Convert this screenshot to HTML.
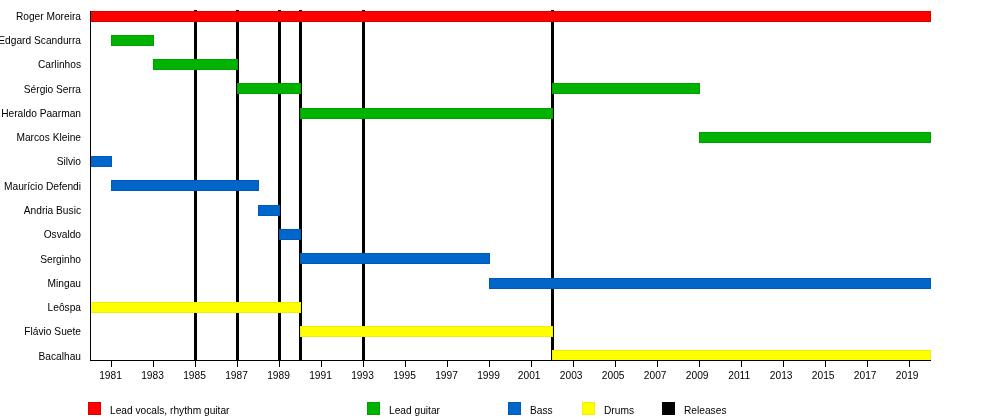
<!DOCTYPE html>
<html><head><meta charset="utf-8"><title>Timeline</title>
<style>
html,body{margin:0;padding:0;background:#fff;}
body{width:1000px;height:420px;overflow:hidden;}
svg{display:block;will-change:transform;}
text{font-family:"Liberation Sans",Arial,sans-serif;font-size:10.2px;fill:#000;}
</style></head><body>
<svg width="1000" height="420" viewBox="0 0 1000 420">
<rect x="0" y="0" width="1000" height="420" fill="#fff"/>

<rect x="194" y="10" width="3" height="350" fill="#000"/>
<rect x="236" y="10" width="3" height="350" fill="#000"/>
<rect x="278" y="10" width="3" height="350" fill="#000"/>
<rect x="299" y="10" width="3" height="350" fill="#000"/>
<rect x="362" y="10" width="3" height="350" fill="#000"/>
<rect x="551" y="10" width="3" height="350" fill="#000"/>
<rect x="90" y="11" width="841" height="11" fill="#dc0000"/>
<rect x="91" y="12" width="839" height="9" fill="#ff0000"/>
<rect x="111" y="35" width="43" height="11" fill="#00a000"/>
<rect x="112" y="36" width="41" height="9" fill="#00b300"/>
<rect x="153" y="59" width="85" height="11" fill="#00a000"/>
<rect x="154" y="60" width="83" height="9" fill="#00b300"/>
<rect x="237" y="83" width="64" height="11" fill="#00a000"/>
<rect x="238" y="84" width="62" height="9" fill="#00b300"/>
<rect x="552" y="83" width="148" height="11" fill="#00a000"/>
<rect x="553" y="84" width="146" height="9" fill="#00b300"/>
<rect x="300" y="108" width="253" height="11" fill="#00a000"/>
<rect x="301" y="109" width="251" height="9" fill="#00b300"/>
<rect x="699" y="132" width="232" height="11" fill="#00a000"/>
<rect x="700" y="133" width="230" height="9" fill="#00b300"/>
<rect x="90" y="156" width="22" height="11" fill="#005bb6"/>
<rect x="91" y="157" width="20" height="9" fill="#0066cc"/>
<rect x="111" y="180" width="148" height="11" fill="#005bb6"/>
<rect x="112" y="181" width="146" height="9" fill="#0066cc"/>
<rect x="258" y="205" width="22" height="11" fill="#005bb6"/>
<rect x="259" y="206" width="20" height="9" fill="#0066cc"/>
<rect x="279" y="229" width="22" height="11" fill="#005bb6"/>
<rect x="280" y="230" width="20" height="9" fill="#0066cc"/>
<rect x="300" y="253" width="190" height="11" fill="#005bb6"/>
<rect x="301" y="254" width="188" height="9" fill="#0066cc"/>
<rect x="489" y="278" width="442" height="11" fill="#005bb6"/>
<rect x="490" y="279" width="440" height="9" fill="#0066cc"/>
<rect x="90" y="302" width="211" height="11" fill="#f0f000"/>
<rect x="91" y="303" width="209" height="9" fill="#ffff00"/>
<rect x="300" y="326" width="253" height="11" fill="#f0f000"/>
<rect x="301" y="327" width="251" height="9" fill="#ffff00"/>
<rect x="552" y="350" width="379" height="10" fill="#f0f000"/>
<rect x="553" y="351" width="377" height="9" fill="#ffff00"/>
<rect x="90" y="11" width="1" height="350" fill="#000"/>
<rect x="90" y="360" width="841" height="1" fill="#000"/>
<rect x="111" y="360" width="1" height="7" fill="#000"/>
<rect x="153" y="360" width="1" height="7" fill="#000"/>
<rect x="195" y="360" width="1" height="7" fill="#000"/>
<rect x="237" y="360" width="1" height="7" fill="#000"/>
<rect x="279" y="360" width="1" height="7" fill="#000"/>
<rect x="321" y="360" width="1" height="7" fill="#000"/>
<rect x="363" y="360" width="1" height="7" fill="#000"/>
<rect x="405" y="360" width="1" height="7" fill="#000"/>
<rect x="447" y="360" width="1" height="7" fill="#000"/>
<rect x="489" y="360" width="1" height="7" fill="#000"/>
<rect x="531" y="360" width="1" height="7" fill="#000"/>
<rect x="573" y="360" width="1" height="7" fill="#000"/>
<rect x="615" y="360" width="1" height="7" fill="#000"/>
<rect x="657" y="360" width="1" height="7" fill="#000"/>
<rect x="699" y="360" width="1" height="7" fill="#000"/>
<rect x="741" y="360" width="1" height="7" fill="#000"/>
<rect x="783" y="360" width="1" height="7" fill="#000"/>
<rect x="825" y="360" width="1" height="7" fill="#000"/>
<rect x="867" y="360" width="1" height="7" fill="#000"/>
<rect x="909" y="360" width="1" height="7" fill="#000"/>
<text x="81" y="19.80" text-anchor="end">Roger Moreira</text>
<text x="81" y="44.07" text-anchor="end">Edgard Scandurra</text>
<text x="81" y="68.34" text-anchor="end">Carlinhos</text>
<text x="81" y="92.61" text-anchor="end">Sérgio Serra</text>
<text x="81" y="116.88" text-anchor="end">Heraldo Paarman</text>
<text x="81" y="141.15" text-anchor="end">Marcos Kleine</text>
<text x="81" y="165.42" text-anchor="end">Silvio</text>
<text x="81" y="189.69" text-anchor="end">Maurício Defendi</text>
<text x="81" y="213.96" text-anchor="end">Andria Busic</text>
<text x="81" y="238.23" text-anchor="end">Osvaldo</text>
<text x="81" y="262.50" text-anchor="end">Serginho</text>
<text x="81" y="286.77" text-anchor="end">Mingau</text>
<text x="81" y="311.04" text-anchor="end">Leôspa</text>
<text x="81" y="335.31" text-anchor="end">Flávio Suete</text>
<text x="81" y="359.58" text-anchor="end">Bacalhau</text>
<text x="110.5" y="379" text-anchor="middle">1981</text>
<text x="152.5" y="379" text-anchor="middle">1983</text>
<text x="194.5" y="379" text-anchor="middle">1985</text>
<text x="236.5" y="379" text-anchor="middle">1987</text>
<text x="278.5" y="379" text-anchor="middle">1989</text>
<text x="320.5" y="379" text-anchor="middle">1991</text>
<text x="362.5" y="379" text-anchor="middle">1993</text>
<text x="404.5" y="379" text-anchor="middle">1995</text>
<text x="446.5" y="379" text-anchor="middle">1997</text>
<text x="488.5" y="379" text-anchor="middle">1999</text>
<text x="529.2" y="379" text-anchor="middle">2001</text>
<text x="571.2" y="379" text-anchor="middle">2003</text>
<text x="613.2" y="379" text-anchor="middle">2005</text>
<text x="655.2" y="379" text-anchor="middle">2007</text>
<text x="697.2" y="379" text-anchor="middle">2009</text>
<text x="739.2" y="379" text-anchor="middle">2011</text>
<text x="781.2" y="379" text-anchor="middle">2013</text>
<text x="823.2" y="379" text-anchor="middle">2015</text>
<text x="865.2" y="379" text-anchor="middle">2017</text>
<text x="907.2" y="379" text-anchor="middle">2019</text>
<rect x="88" y="402" width="13" height="13" fill="#dc0000"/>
<rect x="89" y="403" width="11" height="11" fill="#ff0000"/>
<text x="110" y="414">Lead vocals, rhythm guitar</text>
<rect x="367" y="402" width="13" height="13" fill="#00a000"/>
<rect x="368" y="403" width="11" height="11" fill="#00b300"/>
<text x="389" y="414">Lead guitar</text>
<rect x="508" y="402" width="13" height="13" fill="#005bb6"/>
<rect x="509" y="403" width="11" height="11" fill="#0066cc"/>
<text x="530" y="414">Bass</text>
<rect x="582" y="402" width="13" height="13" fill="#f0f000"/>
<rect x="583" y="403" width="11" height="11" fill="#ffff00"/>
<text x="604" y="414">Drums</text>
<rect x="662" y="402" width="13" height="13" fill="#000"/>
<rect x="663" y="403" width="11" height="11" fill="#000"/>
<text x="684" y="414">Releases</text>
</svg>
</body></html>
